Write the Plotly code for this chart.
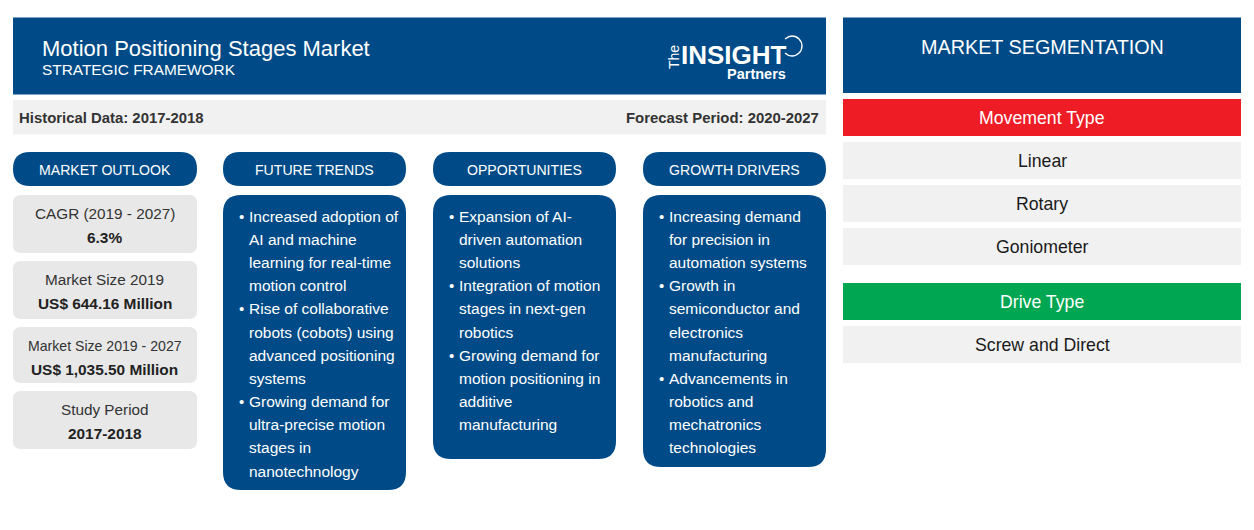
import plotly.graph_objects as go

FONT = "Liberation Sans"
BLUE = "#004b87"
GREY = "#f1f1f1"
CARD = "#e8e8e8"
RED = "#ee1c25"
GREEN = "#00a651"
DARK = "#333333"

title = "Motion Positioning Stages Market"
subtitle = "STRATEGIC FRAMEWORK"
historical = "Historical Data: 2017-2018"
forecast = "Forecast Period: 2020-2027"
column_heads = ["MARKET OUTLOOK", "FUTURE TRENDS", "OPPORTUNITIES", "GROWTH DRIVERS"]
card_labels = ["CAGR (2019 - 2027)", "Market Size 2019", "Market Size 2019 - 2027", "Study Period"]
card_values = ["6.3%", "US$ 644.16 Million", "US$ 1,035.50 Million", "2017-2018"]
future_trends = [
    ["Increased adoption of", "AI and machine", "learning for real-time", "motion control"],
    ["Rise of collaborative", "robots (cobots) using", "advanced positioning", "systems"],
    ["Growing demand for", "ultra-precise motion", "stages in", "nanotechnology"],
]
opportunities = [
    ["Expansion of AI-", "driven automation", "solutions"],
    ["Integration of motion", "stages in next-gen", "robotics"],
    ["Growing demand for", "motion positioning in", "additive", "manufacturing"],
]
growth_drivers = [
    ["Increasing demand", "for precision in", "automation systems"],
    ["Growth in", "semiconductor and", "electronics", "manufacturing"],
    ["Advancements in", "robotics and", "mechatronics", "technologies"],
]
seg_title = "MARKET SEGMENTATION"
seg_head_1 = "Movement Type"
seg_items_1 = ["Linear", "Rotary", "Goniometer"]
seg_head_2 = "Drive Type"
seg_items_2 = ["Screw and Direct"]

shapes, notes = [], []


def rect(x0, y0, x1, y1, color, r=0):
    if r == 0:
        path = f"M{x0},{y0}H{x1}V{y1}H{x0}Z"
    else:
        path = (f"M{x0+r},{y0}H{x1-r}Q{x1},{y0} {x1},{y0+r}V{y1-r}Q{x1},{y1} {x1-r},{y1}"
                f"H{x0+r}Q{x0},{y1} {x0},{y1-r}V{y0+r}Q{x0},{y0} {x0+r},{y0}Z")
    shapes.append(dict(type="path", path=path, fillcolor=color, line=dict(width=0), layer="below"))


def text(x, y, s, size, color, anchor="center", bold=False, angle=0):
    notes.append(dict(x=x, y=y, text=f"<b>{s}</b>" if bold else s, showarrow=False,
                      xanchor=anchor, yanchor="middle", borderpad=0, textangle=angle,
                      font=dict(family=FONT, size=size, color=color)))


# top banner
rect(13, 17.5, 826, 94.5, BLUE)
text(41, 48, title, 22, "white", "left")
text(41, 69.5, subtitle, 15.4, "white", "left")
rect(13, 100, 826, 134.5, GREY)
text(18, 117.5, historical, 14.9, DARK, "left", True)
text(819.5, 117.5, forecast, 14.9, DARK, "right", True)

# logo
text(674, 57, "The", 14, "white", angle=-90)
text(733.5, 55, "INSIGHT", 26, "white", bold=True)
text(756, 74, "Partners", 14.5, "white", bold=True)
shapes.append(dict(type="path",
                   path="M785,39 C787.5,37 789.5,36 792,36 C797.5,36 802,40.5 802,46 "
                        "C802,51.5 797.5,56 792,56 C789,56 787,55 785,53",
                   line=dict(color="white", width=1.3)))

# columns
xs = [(13, 197), (223, 406), (433, 616), (643, 826)]
for (x0, x1), head in zip(xs, column_heads):
    rect(x0, 152, x1, 186, BLUE, 17)
    text((x0 + x1) / 2, 169.5, head, 14.1, "white")

# outlook cards
card_y = [(195, 253), (261, 319), (327, 383), (391, 449)]
label_size = [15.3, 15.3, 14.1, 15.3]
for (y0, y1), lab, val, sz in zip(card_y, card_labels, card_values, label_size):
    rect(13, y0, 197, y1, CARD, 8)
    text(104.5, y0 + 18.5, lab, sz, DARK)
    text(104.5, y0 + 42, val, 15.4, "#222222", bold=True)

# bullet panels
PITCH = 23.18
for (x0, x1), y1, groups in zip(xs[1:], [490, 459, 467], [future_trends, opportunities, growth_drivers]):
    rect(x0, 195, x1, y1, BLUE, 18)
    y = 216.1
    for group in groups:
        text(x0 + 18.5, y, "•", 15, "white")
        for line in group:
            text(x0 + 25, y, line, 15.5, "white", "left")
            y += PITCH

# segmentation
rect(843, 17.5, 1241, 93, BLUE)
text(1042, 46.5, seg_title, 19.8, "white")
rect(843, 99, 1241, 136, RED)
text(1042, 117.5, seg_head_1, 17.7, "white")
for i, item in enumerate(seg_items_1):
    y0 = 142 + 43 * i
    rect(843, y0, 1241, y0 + 37, GREY)
    text(1042, y0 + 18.5, item, 17.7, "#1a1a1a")
rect(843, 283, 1241, 320, GREEN)
text(1042, 301.5, seg_head_2, 17.7, "white")
for i, item in enumerate(seg_items_2):
    y0 = 326 + 43 * i
    rect(843, y0, 1241, y0 + 37, GREY)
    text(1042, y0 + 18.5, item, 17.7, "#1a1a1a")

fig = go.Figure()
fig.update_layout(
    width=1254, height=530, margin=dict(l=0, r=0, t=0, b=0),
    paper_bgcolor="white", plot_bgcolor="white", showlegend=False,
    xaxis=dict(range=[0, 1254], visible=False, fixedrange=True),
    yaxis=dict(range=[530, 0], visible=False, fixedrange=True),
    shapes=shapes, annotations=notes,
)
fig.write_html("out.html", config=dict(displayModeBar=False),
               post_script="document.body.style.margin='0';document.body.style.overflow='hidden';")
